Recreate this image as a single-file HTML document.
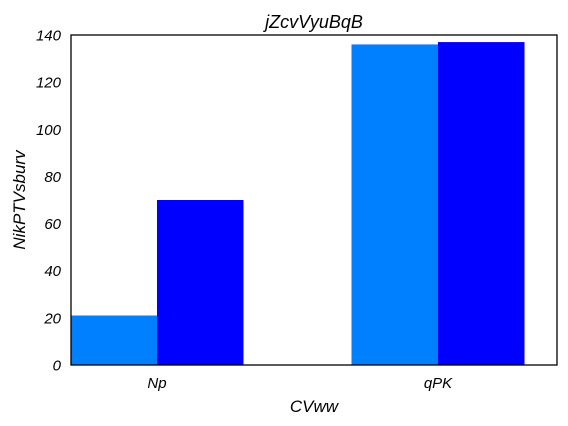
<!DOCTYPE html>
<html><head><meta charset="utf-8"><style>
body{margin:0;background:#fff;}
svg{display:block;font-family:"Liberation Sans",sans-serif;font-style:italic;}
</style></head><body>
<svg id="chart" width="568" height="426">
<text x="314" y="28" font-size="18" text-anchor="middle">jZcvVyuBqB</text>
<text x="314" y="412" font-size="17" text-anchor="middle">CVww</text>
<text transform="translate(25,200) rotate(-90)" font-size="17" text-anchor="middle">NikPTVsburv</text>
<g id="bars"></g><g id="yticks"></g><g id="xticks"></g>
<rect x="71" y="35" width="486" height="330" fill="none" stroke="#000" stroke-width="1.3"/>
</svg>
<script>
const categories = ["Np", "qPK"];
const series1 = [21, 136];
const series2 = [70, 137];
const yTicks = [0, 20, 40, 60, 80, 100, 120, 140];
const colors = ["#0080ff", "#0000ff"];
const ns = "http://www.w3.org/2000/svg";
const top_ = 35, bot = 365, yMax = 140;
const y = v => bot - (v / yMax) * (bot - top_);
const xc = i => 157 + 281 * i;
const bw = 86.5;
const bars = document.getElementById("bars");
[series1, series2].forEach((s, si) => {
  s.forEach((v, i) => {
    const r = document.createElementNS(ns, "rect");
    r.setAttribute("x", xc(i) - bw + si * bw);
    r.setAttribute("y", y(v));
    r.setAttribute("width", bw);
    r.setAttribute("height", bot - y(v));
    r.setAttribute("fill", colors[si]);
    
    
    bars.appendChild(r);
  });
});
const yt = document.getElementById("yticks");
yTicks.forEach(t => {
  const e = document.createElementNS(ns, "text");
  e.setAttribute("x", 61); e.setAttribute("y", y(t) + 5.5);
  e.setAttribute("font-size", "15"); e.setAttribute("text-anchor", "end");
  e.textContent = t;
  
  
  yt.appendChild(e);
});
const xt = document.getElementById("xticks");
categories.forEach((c, i) => {
  const e = document.createElementNS(ns, "text");
  e.setAttribute("x", xc(i)); e.setAttribute("y", 388);
  e.setAttribute("font-size", "15"); e.setAttribute("text-anchor", "middle");
  e.textContent = c;
  
  
  xt.appendChild(e);
});
</script>
</body></html>
